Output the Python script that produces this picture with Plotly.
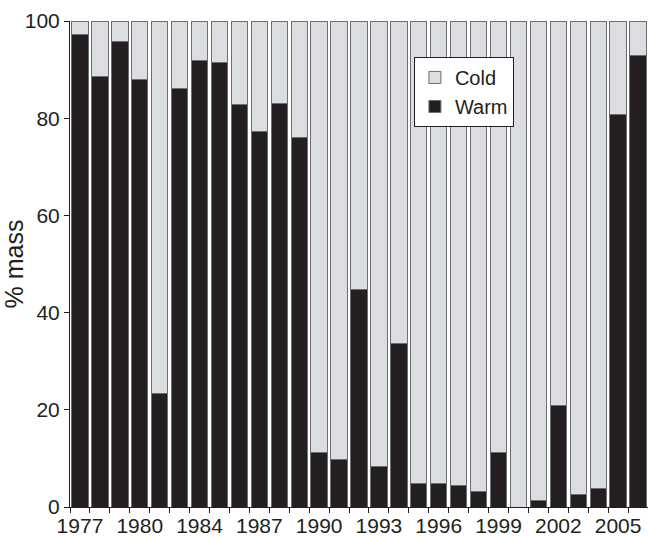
import plotly.graph_objects as go

years = [1977, 1978, 1979, 1980, 1981, 1982, 1984, 1985, 1986, 1987, 1988, 1989,
         1990, 1991, 1992, 1993, 1994, 1995, 1996, 1997, 1998, 1999, 2000, 2001,
         2002, 2003, 2004, 2005, 2006]
warm = [97.3, 88.5, 95.8, 88.0, 23.4, 86.1, 91.9, 91.4, 82.9, 77.3, 83.1, 76.1,
        11.2, 9.8, 44.7, 8.4, 33.7, 4.9, 4.9, 4.5, 3.2, 11.2, 0.0, 1.4,
        20.9, 2.6, 3.8, 80.7, 92.8]
cold = [round(100 - w, 1) for w in warm]
labelled_years = [1977, 1980, 1984, 1987, 1990, 1993, 1996, 1999, 2002, 2005]

cats = [str(y) for y in years]
ticktext = [str(y) if y in labelled_years else "" for y in years]

font_family = "Liberation Sans, Arial, Helvetica, sans-serif"
outline = dict(color="#6d6e71", width=1)

fig = go.Figure()
fig.add_trace(go.Bar(x=cats, y=warm, name="Warm",
                     marker=dict(color="#231f20", line=outline)))
fig.add_trace(go.Bar(x=cats, y=cold, name="Cold",
                     marker=dict(color="#dcdde0", line=outline)))

fig.update_layout(
    width=648, height=537,
    margin=dict(l=70, r=0, t=21, b=30),
    barmode="stack", bargap=0.18,
    plot_bgcolor="white", paper_bgcolor="white",
    font=dict(family=font_family, size=21, color="#231f20"),
    showlegend=True,
    legend=dict(x=0.595, y=0.926, xanchor="left", yanchor="top",
                traceorder="reversed", bgcolor="white",
                bordercolor="#231f20", borderwidth=1, itemwidth=30,
                tracegroupgap=0, font=dict(size=20)),
)
fig.update_xaxes(type="category", tickmode="array", tickvals=cats, ticktext=ticktext,
                 tickson="boundaries", ticks="outside", ticklen=5, tickwidth=1,
                 tickangle=0, automargin=False,
                 tickcolor="#231f20", showline=True, linecolor="#231f20", linewidth=1,
                 showgrid=False, range=[-0.5, len(years) - 0.5])
fig.update_yaxes(range=[0, 100], tickvals=[0, 20, 40, 60, 80, 100], automargin=False,
                 ticks="outside", ticklen=5, tickwidth=1, tickcolor="#231f20",
                 showline=True, linecolor="#231f20", linewidth=1, showgrid=False,
                 zeroline=False, title=dict(text="% mass", standoff=6))

fig.write_html("out.html", config={"displayModeBar": False},
               post_script="document.body.style.margin='0';document.body.style.overflow='hidden';")
